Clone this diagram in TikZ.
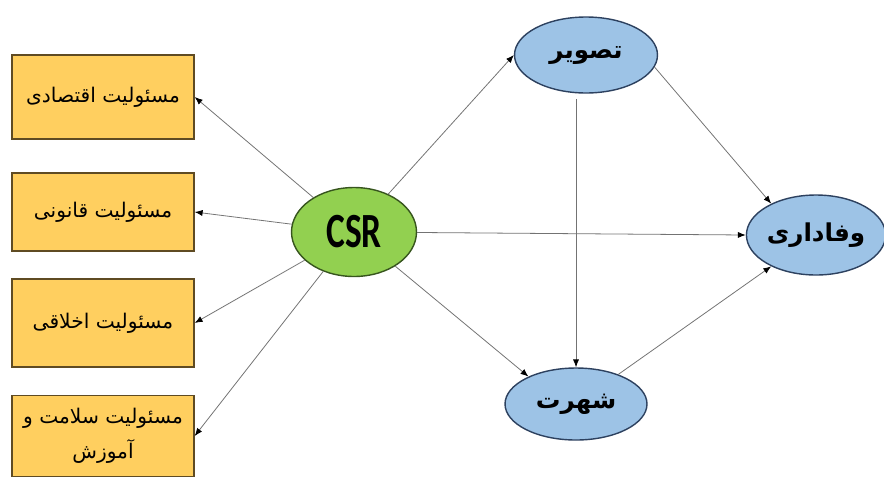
\documentclass[tikz,border=0pt]{standalone}
\usepackage{fontspec}
\setmainfont{Carlito}
\newfontfamily\arabicfont[Script=Arabic]{DejaVu Sans}
\TeXXeTstate=1
\usetikzlibrary{
    arrows.meta,
    shapes.geometric,
    positioning,
    calc,
}
\definecolor{boxfill}{RGB}{255,207,95}
\definecolor{boxline}{RGB}{95,75,35}
\definecolor{csrfill}{RGB}{146,208,80}
\definecolor{csrline}{RGB}{55,85,30}
\definecolor{ovalfill}{RGB}{157,195,230}
\definecolor{ovalline}{RGB}{45,65,95}
\newcommand{\fa}[1]{\beginR #1\endR}

\begin{document}
\begin{tikzpicture}[
    x=0.02cm, y=-0.02cm,
    >={Latex[length=4.5pt, width=3.5pt, color=black]},
    resp/.style={draw=boxline, fill=boxfill, thick, minimum width=3.64cm, align=center,
        font=\arabicfont\fontsize{11.5}{20}\selectfont},
    oval/.style={draw=ovalline, fill=ovalfill, ellipse, thick, inner sep=0pt,
        font=\arabicfont\bfseries\fontsize{14}{16}\selectfont},
    core/.style={draw=csrline, fill=csrfill, ellipse, thick, inner sep=0pt,
        font=\bfseries\fontsize{28}{30}\selectfont},
    link/.style={->, draw=black!55, line width=0.45pt},
]
\useasboundingbox (0,0) rectangle (884,477);

% responsibilities
\node[resp, minimum height=1.68cm] (econ) at (103,97) {\fa{مسئولیت اقتصادی}};
\node[resp, minimum height=1.56cm] (legal) at (103,212) {\fa{مسئولیت قانونی}};
\node[resp, minimum height=1.76cm] (ethic) at (103,323) {\fa{مسئولیت اخلاقی}};
\node[resp, minimum height=1.62cm] (health) at (103,436) {\fa{مسئولیت سلامت و}\\\fa{آموزش}};

% constructs
\node[core, minimum width=2.5cm, minimum height=1.78cm] (csr) at (354,232) {\scalebox{.72}[1]{CSR}};
\node[oval, minimum width=2.86cm, minimum height=1.52cm] (image) at (586,55) {\fa{تصویر}};
\node[oval, minimum width=2.84cm, minimum height=1.44cm] (repute) at (576,404) {\fa{شهرت}};
\node[oval, minimum width=2.72cm, minimum height=1.6cm] (loyal) at (816,235) {\fa{وفاداری}};

\draw[link] (csr) -- (econ.east);
\draw[link] (csr) -- (legal.east);
\draw[link] (csr) -- (ethic.east);
\draw[link] (csr) -- (health.east);

\draw[link] (csr) -- (image.west);
\draw[link] (csr) -- (loyal.west);
\draw[link] (csr) -- (repute.150);
\draw[link, shorten <=3pt] (image.south -| repute.north) -- (repute.north);
\draw[link] (image.-10) -- (loyal.145);
\draw[link] (repute.35) -- (loyal.-145);

\end{tikzpicture}
\end{document}
